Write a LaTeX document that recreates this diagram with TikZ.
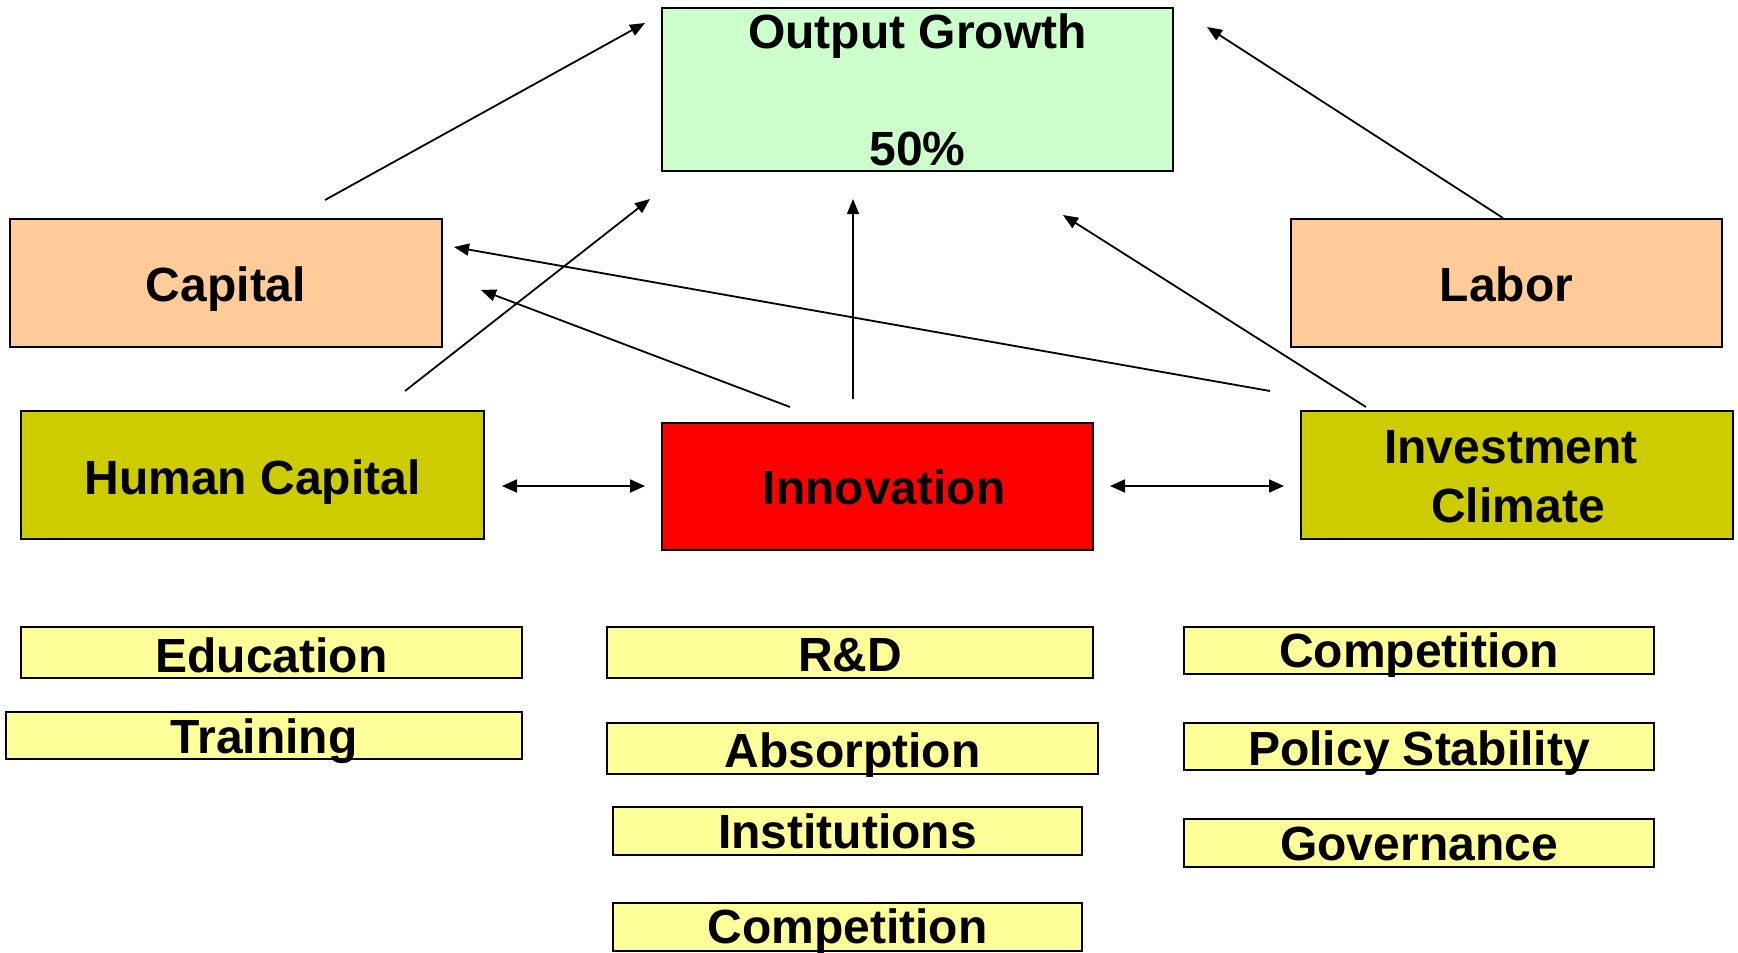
\documentclass[tikz,border=0pt]{standalone}
\usepackage{fontspec}
\setmainfont{Liberation Sans}
\usetikzlibrary{arrows.meta}
\definecolor{growthgreen}{HTML}{CCFFCC}
\definecolor{factorpeach}{HTML}{FFCC99}
\definecolor{driverolive}{HTML}{CCCC00}
\definecolor{innored}{HTML}{FF0000}
\definecolor{itemyellow}{HTML}{FFFF99}
\begin{document}
\begin{tikzpicture}[x=1pt,y=-1pt,
  box/.style={rectangle,draw=black,line width=2pt,inner sep=0pt,outer sep=0pt},
  lbl/.style={inner sep=0pt,anchor=base,text=black,font=\fontsize{48}{51}\selectfont\bfseries},
  link/.style={line width=1.8pt,-{Triangle[length=15pt,width=12pt]}},
  thinlink/.style={line width=1.2pt,-{Triangle[length=15pt,width=12pt]}},
  twoway/.style={line width=1.8pt,{Triangle[length=15pt,width=13pt]}-{Triangle[length=15pt,width=13pt]}}]
\useasboundingbox (0,0) rectangle (1738,953);

% main boxes
\node[box,fill=growthgreen,minimum width=511pt,minimum height=163pt] (og) at (917.5,89.5) {};
\node[box,fill=factorpeach,minimum width=432pt,minimum height=128pt] (cap) at (226,283) {};
\node[box,fill=factorpeach,minimum width=431pt,minimum height=128pt] (lab) at (1506.5,283) {};
\node[box,fill=driverolive,minimum width=463pt,minimum height=128pt] (hc) at (252.5,475) {};
\node[box,fill=innored,minimum width=431pt,minimum height=127pt] (inn) at (877.5,486.5) {};
\node[box,fill=driverolive,minimum width=432pt,minimum height=128pt] (ic) at (1517,475) {};

% item boxes
\node[box,fill=itemyellow,minimum width=501pt,minimum height=51pt] (edu) at (271.5,652.5) {};
\node[box,fill=itemyellow,minimum width=516pt,minimum height=47pt] (trn) at (264,735.5) {};
\node[box,fill=itemyellow,minimum width=486pt,minimum height=51pt] (rd) at (850,652.5) {};
\node[box,fill=itemyellow,minimum width=491pt,minimum height=51pt] (abs) at (852.5,748.5) {};
\node[box,fill=itemyellow,minimum width=469pt,minimum height=48pt] (ins) at (847.5,831) {};
\node[box,fill=itemyellow,minimum width=469pt,minimum height=48pt] (cmpm) at (847.5,927) {};
\node[box,fill=itemyellow,minimum width=470pt,minimum height=47pt] (cmpr) at (1419,650.5) {};
\node[box,fill=itemyellow,minimum width=470pt,minimum height=47pt] (pol) at (1419,746.5) {};
\node[box,fill=itemyellow,minimum width=470pt,minimum height=48pt] (gov) at (1419,843) {};

% labels
\node[lbl] (ogT1) at (917.5,48.5) {Output Growth};
\node[lbl] (ogT2) at (917.5,165.5) {50\%};
\node[lbl] (capT) at (226,301.5) {Capital};
\node[lbl] (labT) at (1506.5,301.5) {Labor};
\node[lbl] (hcT) at (252.5,494.5) {Human Capital};
\node[lbl] (innT) at (884,504.5) {Innovation};
\node[lbl] (icT1) at (1511,463.5) {Investment};
\node[lbl] (icT2) at (1518,522.5) {Climate};
\node[lbl] (eduT) at (271.5,672.5) {Education};
\node[lbl] (trnT) at (264,753.5) {Training};
\node[lbl] (rdT) at (850,671.5) {R\&D};
\node[lbl] (absT) at (852.5,767.5) {Absorption};
\node[lbl] (insT) at (847.5,848.5) {Institutions};
\node[lbl] (cmpmT) at (847.5,943.5) {Competition};
\node[lbl] (cmprT) at (1419,667.5) {Competition};
\node[lbl] (polT) at (1419,765.5) {Policy Stability};
\node[lbl] (govT) at (1419,860.5) {Governance};

% connector end points (arrows stop short of the boxes)
\coordinate (capOut) at (325,200);   \coordinate (ogInA) at (645,23);
\coordinate (hcOut) at (405,391);    \coordinate (ogInB) at (650,199);
\coordinate (innOutA) at (853,399);  \coordinate (ogInC) at (853,199);
\coordinate (innOutB) at (790,407);  \coordinate (capInA) at (481,290);
\coordinate (icOutA) at (1270,391);  \coordinate (capInB) at (454,247);
\coordinate (icOutB) at (1366,407);  \coordinate (ogInD) at (1063,215);
\coordinate (labOut) at (1503,218);  \coordinate (ogInE) at (1207,27);
\coordinate (hcSide) at (502,486);   \coordinate (innWest) at (645,486);
\coordinate (innEast) at (1110,486); \coordinate (icSide) at (1284,486);

% connectors
\draw[link] (capOut) -- (ogInA);
\draw[link] (hcOut) -- (ogInB);
\draw[thinlink] (innOutA) -- (ogInC);
\draw[link] (innOutB) -- (capInA);
\draw[link] (icOutA) -- (capInB);
\draw[link] (icOutB) -- (ogInD);
\draw[link] (labOut) -- (ogInE);
\draw[twoway] (hcSide) -- (innWest);
\draw[twoway] (innEast) -- (icSide);
\end{tikzpicture}
\end{document}
